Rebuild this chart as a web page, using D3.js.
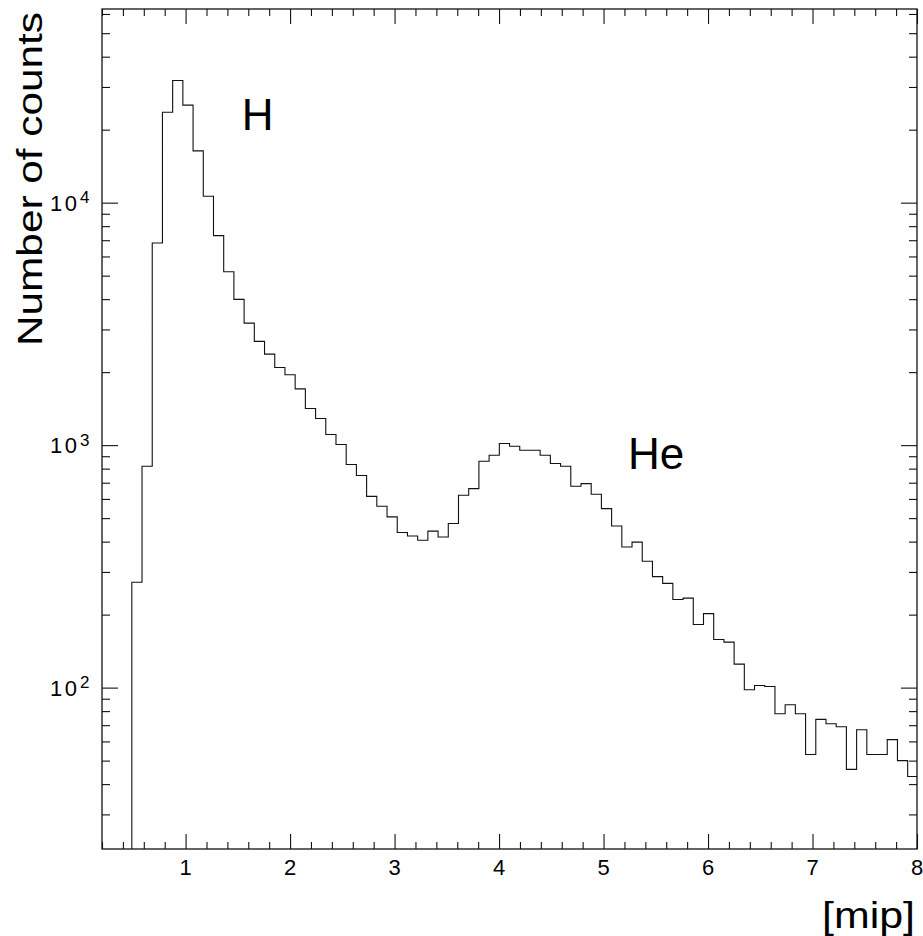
<!DOCTYPE html>
<html>
<head>
<meta charset="utf-8">
<script src="https://cdn.jsdelivr.net/npm/d3@7"></script>
<style>
  body { margin: 0; background: #fff; }
  svg { display: block; }
  text { font-family: "Liberation Sans", Arial, sans-serif; fill: #000; }
</style>
</head>
<body>
<svg id="chart" width="923" height="936"></svg>
<script>
// histogram: first bin edge, bin width (mip), counts per bin
const binStart = 0.4854;
const binWidth = 0.0977;
const counts = [
  272, 818, 6820, 23600, 31900, 25240, 16350, 10630, 7310, 5190,
  3993, 3186, 2678, 2373, 2091, 1950, 1707, 1416, 1288, 1106,
  1006, 832, 749, 615, 560, 506, 436, 422, 405, 442,
  418, 475, 621, 662, 858, 908, 1015, 990, 953, 953,
  908, 840, 818, 677, 694, 627, 547, 464, 380, 398,
  332, 287, 269, 231, 234, 182, 202, 158, 154, 125,
  98, 102, 101, 78, 85, 78, 53, 74, 71, 69,
  46, 67, 53, 53, 61, 50, 43
];
const xMajor = [1, 2, 3, 4, 5, 6, 7, 8];
const yMajor = [100, 1000, 10000];
const yExponents = ["2", "3", "4"];
const peakLabels = ["H", "He"];
const peakX = [1.537, 5.234];
const peakY = [19950, 794];

const svg = d3.select("#chart");
const frame = { left: 102, right: 917, top: 9, bottom: 849 };

const x = d3.scaleLinear().domain([0.2, 8]).range([frame.left, frame.right]);
const y = d3.scaleLog().domain([21.6, 62900]).range([frame.bottom, frame.top]);

// minor ticks
const xMinor = d3.range(1, 40).filter(i => i % 5 !== 0).map(i => i / 5);
const yMinor = [];
[10, 100, 1000, 10000].forEach(dec => {
  for (let k = 2; k <= 9; k++) {
    const v = k * dec;
    if (v >= y.domain()[0] && v <= y.domain()[1]) yMinor.push(v);
  }
});

function ticks(axis, tr, values, size) {
  svg.append("g")
    .attr("transform", tr)
    .call(axis.tickValues(values).tickSize(size).tickSizeOuter(0).tickFormat(""))
    .call(g => g.select(".domain").remove())
    .call(g => g.selectAll("line").attr("stroke", "#111").attr("stroke-width", 1.1));
}

ticks(d3.axisBottom(x), `translate(0,${frame.bottom})`, xMinor, -7);
ticks(d3.axisBottom(x), `translate(0,${frame.bottom})`, xMajor, -15);
ticks(d3.axisTop(x), `translate(0,${frame.top})`, xMinor, -7);
ticks(d3.axisTop(x), `translate(0,${frame.top})`, xMajor, -15);
ticks(d3.axisLeft(y), `translate(${frame.left},0)`, yMinor, -8);
ticks(d3.axisLeft(y), `translate(${frame.left},0)`, yMajor, -16);
ticks(d3.axisRight(y), `translate(${frame.right},0)`, yMinor, -8);
ticks(d3.axisRight(y), `translate(${frame.right},0)`, yMajor, -16);

// frame
svg.append("rect")
  .attr("x", frame.left).attr("y", frame.top)
  .attr("width", frame.right - frame.left).attr("height", frame.bottom - frame.top)
  .attr("fill", "none").attr("stroke", "#111").attr("stroke-width", 1.3);

// histogram
svg.append("clipPath").attr("id", "clip")
  .append("rect")
  .attr("x", frame.left).attr("y", frame.top)
  .attr("width", frame.right - frame.left).attr("height", frame.bottom - frame.top);

const pts = [[binStart, y.domain()[0]]]
  .concat(counts.map((c, i) => [binStart + i * binWidth, c]));
pts.push([binStart + counts.length * binWidth, counts[counts.length - 1]]);

const line = d3.line()
  .x(d => x(d[0]))
  .y(d => y(d[1]))
  .curve(d3.curveStepAfter);

svg.append("path")
  .datum(pts)
  .attr("clip-path", "url(#clip)")
  .attr("d", line)
  .attr("fill", "none")
  .attr("stroke", "#111")
  .attr("stroke-width", 1.1);

// x tick labels
svg.append("g").selectAll("text")
  .data(xMajor)
  .join("text")
  .attr("x", d => x(d))
  .attr("y", 875)
  .attr("text-anchor", "middle")
  .attr("font-size", 22)
  .text(d => d);

// y tick labels 10^n
const yl = svg.append("g").selectAll("g")
  .data(yMajor)
  .join("g")
  .attr("transform", d => `translate(0,${y(d)})`);
yl.append("text")
  .attr("x", 50).attr("y", 8)
  .attr("font-size", 22)
  .attr("textLength", 27)
  .text("10");
yl.append("text")
  .attr("x", 80).attr("y", 0.5)
  .attr("font-size", 17)
  .text((d, i) => yExponents[i]);

// axis titles
svg.append("text")
  .attr("transform", "translate(42,346) rotate(-90)")
  .attr("font-size", 35)
  .attr("textLength", 334)
  .attr("lengthAdjust", "spacingAndGlyphs")
  .text("Number of counts");

svg.append("text")
  .attr("x", 915).attr("y", 928)
  .attr("text-anchor", "end")
  .attr("font-size", 37)
  .attr("textLength", 93)
  .attr("lengthAdjust", "spacingAndGlyphs")
  .text("[mip]");

// peak labels
svg.append("g").selectAll("text")
  .data(peakLabels)
  .join("text")
  .attr("x", (d, i) => x(peakX[i]))
  .attr("y", (d, i) => y(peakY[i]))
  .attr("font-size", 44)
  .text(d => d);
</script>
</body>
</html>
